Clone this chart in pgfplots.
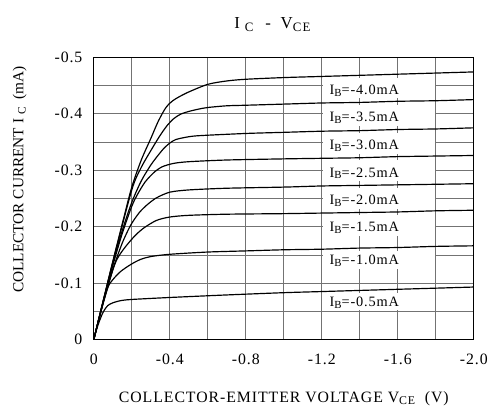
\documentclass[border=0pt]{standalone}
\usepackage{fontspec}
\setmainfont{Liberation Serif}
\newfontfamily\wide[LetterSpace=6]{Liberation Serif}
\newfontfamily\wider[LetterSpace=10]{Liberation Serif}
\usepackage{pgfplots}
\pgfplotsset{compat=1.18}
\newcommand\subs[2]{\raisebox{-0.3ex}{\fontsize{#1}{#1}\selectfont #2}}
\begin{document}
\begin{tikzpicture}
\path (0pt,0pt) rectangle (491pt,422pt);
\begin{axis}[
  at={(95pt,78pt)}, anchor=south west,
  scale only axis, width=385pt, height=286pt,
  xmin=0, xmax=2, ymin=0, ymax=0.5,
  xtick={0,0.4,0.8,1.2,1.6,2.0},
  xticklabels={0,-0.4,-0.8,-1.2,-1.6,-2.0},
  minor xtick={0.2,0.6,1.0,1.4,1.8},
  ytick={0,0.1,0.2,0.3,0.4,0.5},
  yticklabels={0,-0.1,-0.2,-0.3,-0.4,-0.5},
  minor ytick={0.05,0.15,0.25,0.35,0.45},
  grid=both,
  grid style={black!55, line width=0.7pt},
  major grid style={black!55, line width=0.7pt},
  minor grid style={black!55, line width=0.7pt},
  major tick length=0pt, minor tick length=0pt,
  axis line style={line width=1pt},
  tick label style={font=\fontsize{16}{16}\selectfont\wide},
  xticklabel style={yshift=-11pt},
  yticklabel style={xshift=-8pt},
  cycle list={{black}},
  every axis plot post/.append style={black, solid, line width=1.2pt, no markers, smooth, tension=0.45},
]
\addplot coordinates {(0,0)(0.05,0.069)(0.1,0.138)(0.15,0.205)(0.2,0.27)(0.25,0.318)(0.3,0.356)(0.34,0.387)(0.38,0.411)(0.42,0.424)(0.49,0.437)(0.6,0.452)(0.7,0.458)(0.8,0.461)(1.0,0.464)(1.2,0.466)(1.4,0.468)(1.6,0.470)(1.8,0.472)(2.0,0.474)};
\addplot coordinates {(0,0)(0.1,0.137)(0.2,0.265)(0.25,0.305)(0.308,0.339)(0.35,0.362)(0.386,0.379)(0.42,0.391)(0.456,0.399)(0.5,0.404)(0.55,0.408)(0.6,0.411)(0.7,0.414)(0.8,0.415)(1.0,0.417)(1.2,0.419)(1.4,0.420)(1.6,0.422)(1.8,0.423)(2.0,0.425)};
\addplot coordinates {(0,0)(0.1,0.135)(0.15,0.193)(0.2,0.243)(0.25,0.281)(0.3,0.309)(0.34,0.327)(0.37,0.339)(0.4,0.348)(0.43,0.354)(0.48,0.358)(0.55,0.361)(0.8,0.365)(1.0,0.367)(1.2,0.369)(1.4,0.370)(1.6,0.372)(1.8,0.373)(2.0,0.375)};
\addplot coordinates {(0,0)(0.05,0.068)(0.1,0.131)(0.15,0.188)(0.2,0.236)(0.23,0.257)(0.27,0.279)(0.317,0.296)(0.36,0.306)(0.42,0.312)(0.5,0.315)(0.7,0.318)(1.0,0.320)(1.2,0.321)(1.4,0.322)(1.6,0.324)(1.8,0.325)(2.0,0.326)};
\addplot coordinates {(0,0)(0.05,0.066)(0.1,0.124)(0.15,0.171)(0.195,0.203)(0.24,0.225)(0.282,0.239)(0.33,0.251)(0.4,0.261)(0.5,0.265)(0.7,0.268)(1.0,0.270)(1.2,0.272)(1.4,0.273)(1.6,0.274)(1.8,0.275)(2.0,0.276)};
\addplot coordinates {(0,0)(0.05,0.066)(0.108,0.131)(0.14,0.152)(0.178,0.169)(0.22,0.185)(0.265,0.198)(0.33,0.211)(0.4,0.217)(0.5,0.220)(0.7,0.222)(1.0,0.223)(1.2,0.224)(1.4,0.225)(1.6,0.226)(1.8,0.228)(2.0,0.229)};
\addplot coordinates {(0,0)(0.03,0.04)(0.073,0.091)(0.1,0.106)(0.143,0.121)(0.2,0.134)(0.247,0.142)(0.3,0.147)(0.4,0.151)(0.6,0.155)(0.8,0.157)(1.0,0.159)(1.2,0.160)(1.4,0.162)(1.6,0.163)(1.8,0.165)(2.0,0.166)};
\addplot coordinates {(0,0)(0.015,0.018)(0.03,0.033)(0.05,0.049)(0.073,0.06)(0.1,0.065)(0.143,0.069)(0.2,0.071)(0.4,0.0745)(0.7,0.079)(1.0,0.083)(1.2,0.085)(1.4,0.087)(1.6,0.089)(1.8,0.091)(2.0,0.093)};
% label boxes
\fill[white] (axis cs:1.205,0.427) rectangle (axis cs:1.795,0.463);
\fill[white] (axis cs:1.205,0.379) rectangle (axis cs:1.795,0.416);
\fill[white] (axis cs:1.205,0.329) rectangle (axis cs:1.795,0.366);
\fill[white] (axis cs:1.205,0.2805) rectangle (axis cs:1.795,0.318);
\fill[white] (axis cs:1.205,0.232) rectangle (axis cs:1.795,0.269);
\fill[white] (axis cs:1.205,0.184) rectangle (axis cs:1.795,0.221);
\fill[white] (axis cs:1.205,0.125) rectangle (axis cs:1.795,0.157);
\fill[white] (axis cs:1.205,0.052) rectangle (axis cs:1.795,0.082);
\begin{scope}[every node/.style={anchor=west, inner sep=0pt, font=\fontsize{14.5}{14.5}\selectfont\wide}]
\node at (axis cs:1.24,0.441) {I\subs{11}{B}=-4.0mA};
\node at (axis cs:1.24,0.393) {I\subs{11}{B}=-3.5mA};
\node at (axis cs:1.24,0.343) {I\subs{11}{B}=-3.0mA};
\node at (axis cs:1.24,0.2945) {I\subs{11}{B}=-2.5mA};
\node at (axis cs:1.24,0.246) {I\subs{11}{B}=-2.0mA};
\node at (axis cs:1.24,0.198) {I\subs{11}{B}=-1.5mA};
\node at (axis cs:1.24,0.139) {I\subs{11}{B}=-1.0mA};
\node at (axis cs:1.24,0.0657) {I\subs{11}{B}=-0.5mA};
\end{scope}
\end{axis}
\node[font=\fontsize{17}{17}\selectfont\wide] at (276pt,397pt) {I\hspace{5pt}\subs{13}{C}\hspace{12pt}-\hspace{10pt}V\subs{13}{\wider CE}};
\node[font=\fontsize{16}{16}\selectfont\wide] at (287.5pt,18pt) {COLLECTOR-EMITTER VOLTAGE V\subs{12}{CE}\ \ (V)};
\node[rotate=90, font=\fontsize{15.5}{15.5}\selectfont] at (20pt,240pt) {COLLECTOR CURRENT I \subs{11.5}{C}\ \ (mA)};
\end{tikzpicture}
\end{document}
